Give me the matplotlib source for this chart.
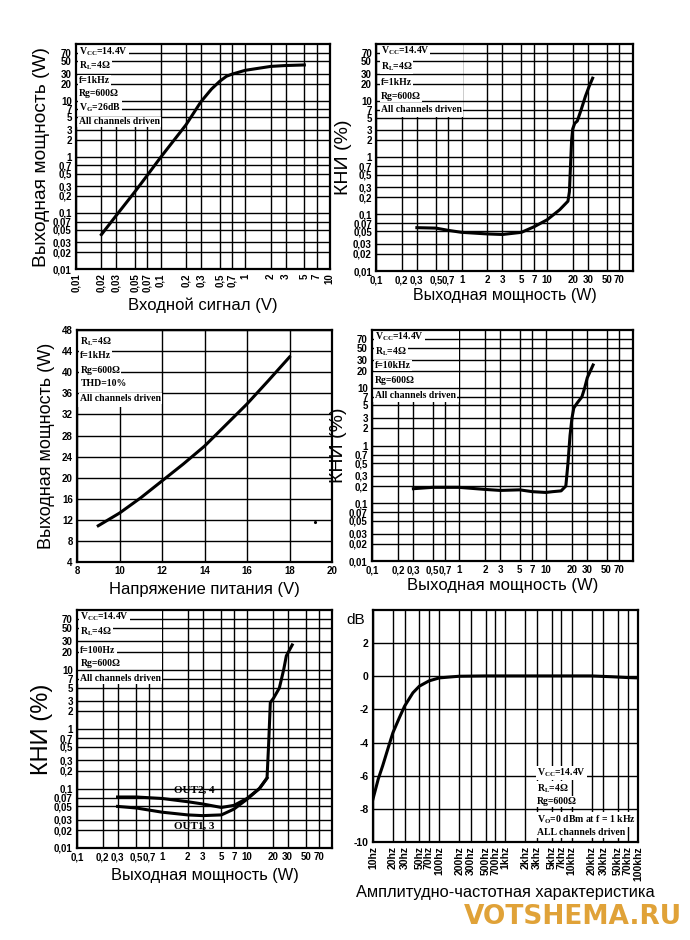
import numpy as np
import matplotlib
matplotlib.use('Agg')
import matplotlib.pyplot as plt
from matplotlib.patches import Rectangle
from matplotlib.ticker import FixedLocator, FixedFormatter, NullLocator

plt.rcParams['font.family'] = ['Liberation Sans', 'DejaVu Sans']
plt.rcParams['mathtext.fontset'] = 'custom'
plt.rcParams['mathtext.rm'] = 'Liberation Serif'
plt.rcParams['mathtext.bf'] = 'Liberation Serif:bold'

# ---- axis ticks / labels ----
log_ticks = [0.01, 0.02, 0.03, 0.05, 0.07, 0.1, 0.2, 0.3, 0.5, 0.7,
             1, 2, 3, 5, 7, 10, 20, 30, 50, 70]
log_labels = ['0,01', '0,02', '0,03', '0,05', '0,07', '0,1', '0,2', '0,3', '0,5', '0,7',
              '1', '2', '3', '5', '7', '10', '20', '30', '50', '70']
vin_ticks = [0.01, 0.02, 0.03, 0.05, 0.07, 0.1, 0.2, 0.3, 0.5, 0.7, 1, 2, 3, 5, 7, 10]
vin_labels = ['0,01', '0,02', '0,03', '0,05', '0,07', '0,1', '0,2', '0,3', '0,5', '0,7',
              '1', '2', '3', '5', '7', '10']
pw_ticks = [0.1, 0.2, 0.3, 0.5, 0.7, 1, 2, 3, 5, 7, 10, 20, 30, 50, 70]
pw_labels = ['0,1', '0,2', '0,3', '0,5', '0,7', '1', '2', '3', '5', '7', '10', '20', '30', '50', '70']
vcc_ticks = [8, 10, 12, 14, 16, 18, 20]
pv_ticks = [4, 8, 12, 16, 20, 24, 28, 32, 36, 40, 44, 48]
f_ticks = [10, 20, 30, 50, 70, 100, 200, 300, 500, 700, 1000, 2000, 3000, 5000, 7000,
           10000, 20000, 30000, 50000, 70000, 100000]
f_labels = ['10hz', '20hz', '30hz', '50hz', '70hz', '100hz', '200hz', '300hz', '500hz',
            '700hz', '1khz', '2khz', '3khz', '5khz', '7khz', '10khz', '20khz', '30khz',
            '50khz', '70khz', '100khz']
db_ticks = [-10, -8, -6, -4, -2, 0, 2]
db_labels = ['-10', '-8', '-6', '-4', '-2', '0', '2']

# ---- curves ----
vin1 = [0.02, 0.03, 0.05, 0.07, 0.1, 0.2, 0.3, 0.4, 0.5, 0.6, 0.7, 1, 2, 3, 5]
pout1 = [0.041, 0.09, 0.24, 0.47, 0.97, 3.7, 9.5, 16, 22, 27, 29.5, 34.5, 40.5, 42, 43]

p2 = [0.3, 0.5, 0.7, 1, 2, 3, 5, 7, 10, 14, 17.5, 18.2, 18.8, 19.3, 19.9, 21, 22.5, 25, 28, 31, 34]
thd2 = [0.058, 0.057, 0.052, 0.048, 0.045, 0.044, 0.048, 0.06, 0.08, 0.12, 0.17, 0.25,
        0.8, 2.0, 3.2, 4.0, 4.4, 7, 12, 18, 25]

vcc3 = [9, 10, 11, 12, 13, 14, 15, 16, 17, 18]
pout3 = [10.9, 13.3, 16.2, 19.4, 22.6, 26.0, 30.0, 34.0, 38.4, 42.9]

p4 = [0.3, 0.5, 1, 2, 3, 5, 7, 10, 12, 15, 17, 18, 19, 20, 21, 23, 26, 28, 30, 35]
thd4 = [0.18, 0.19, 0.19, 0.175, 0.168, 0.172, 0.16, 0.155, 0.16, 0.165, 0.2, 0.5,
        1.5, 3.0, 4.5, 5.5, 7, 10, 15, 25]

p5_out24 = [0.3, 0.5, 1, 2, 3, 5, 7, 10, 14, 17.2, 18, 18.8, 20.5, 24, 27, 29, 34]
thd5_out24 = [0.072, 0.072, 0.068, 0.06, 0.055, 0.048, 0.052, 0.068, 0.1, 0.15, 0.6,
              2.8, 3.3, 4.9, 10, 17, 26]
p5_out13 = [0.3, 0.5, 1, 2, 3, 5, 7, 10, 14, 17.2]
thd5_out13 = [0.05, 0.047, 0.04, 0.036, 0.035, 0.036, 0.045, 0.066, 0.1, 0.15]

f6 = [10, 12, 14, 17, 20, 25, 30, 40, 50, 70, 100, 150, 200, 500, 1000, 5000, 10000,
      20000, 40000, 70000, 100000]
db6 = [-7.4, -6.2, -5.4, -4.3, -3.4, -2.5, -1.8, -1.0, -0.6, -0.28, -0.1, -0.04, 0, 0.02,
       0.02, 0.02, 0.02, 0.02, -0.03, -0.08, -0.1]

SERIF = ['Liberation Serif', 'DejaVu Serif']


def style(ax, xt, xl, yt, yl, xrot=0, size=7):
    ax.xaxis.set_major_locator(FixedLocator(xt))
    ax.xaxis.set_major_formatter(FixedFormatter(xl))
    ax.yaxis.set_major_locator(FixedLocator(yt))
    ax.yaxis.set_major_formatter(FixedFormatter(yl))
    ax.xaxis.set_minor_locator(NullLocator())
    ax.yaxis.set_minor_locator(NullLocator())
    ax.tick_params(length=0, pad=3, labelsize=size)
    for lab in ax.get_xticklabels() + ax.get_yticklabels():
        lab.set_fontweight('bold')
    for lab in ax.get_xticklabels():
        lab.set_rotation(xrot)
    for v in xt:
        ax.axvline(v, color='k', lw=1.0, zorder=1)
    for v in yt:
        ax.axhline(v, color='k', lw=1.0, zorder=3)
    for s in ax.spines.values():
        s.set_linewidth(1.6)
        s.set_zorder(6)


def note(ax, lines, x0, ys, w, h, size=7):
    ax.add_patch(Rectangle((x0 - 0.01, 1 - h), w, h, transform=ax.transAxes,
                           fc='white', ec='none', zorder=2))
    for s, y in zip(lines, ys):
        ax.text(x0, 1 - y, s, transform=ax.transAxes, fontsize=size, va='center',
                family=SERIF, fontweight='bold', zorder=4,
                bbox=dict(fc='white', ec='none', pad=0.6))


fig = plt.figure(figsize=(6.9, 9.4), dpi=100)

# panel 1: output power vs input signal
ax1 = fig.add_axes([0.110, 0.7138, 0.368, 0.239])
ax1.set_xscale('log'); ax1.set_yscale('log')
ax1.set_xlim(0.01, 10); ax1.set_ylim(0.01, 100)
style(ax1, vin_ticks, vin_labels, log_ticks, log_labels, xrot=90)
ax1.plot(vin1, pout1, color='k', lw=2.2, zorder=5)
note(ax1, [r'V$_{\mathbf{CC}}$=14.4V', r'R$_{\mathbf{L}}$=4Ω', 'f=1kHz', 'Rg=600Ω',
           r'V$_{\mathbf{G}}$=26dB', 'All channels driven'],
     0.013, [0.03, 0.093, 0.16, 0.219, 0.281, 0.345], 0.31, 0.37)
ax1.set_ylabel('Выходная мощность (W)', fontsize=13.8, labelpad=2)
ax1.set_xlabel('Входной сигнал (V)', fontsize=12, labelpad=4)

# panel 2: THD vs output power, 1 kHz
ax2 = fig.add_axes([0.545, 0.7117, 0.372, 0.2415])
ax2.set_xscale('log'); ax2.set_yscale('log')
ax2.set_xlim(0.1, 100); ax2.set_ylim(0.01, 100)
style(ax2, pw_ticks, pw_labels, log_ticks, log_labels)
ax2.plot(p2, thd2, color='k', lw=2.2, zorder=5)
note(ax2, [r'V$_{\mathbf{CC}}$=14.4V', r'R$_{\mathbf{L}}$=4Ω', 'f=1kHz', 'Rg=600Ω',
           'All channels driven'],
     0.018, [0.03, 0.10, 0.17, 0.23, 0.29], 0.33, 0.32)
ax2.set_ylabel('КНИ (%)', fontsize=14, labelpad=1)
ax2.set_xlabel('Выходная мощность (W)', fontsize=11.5, labelpad=2)

# panel 3: output power vs supply voltage
ax3 = fig.add_axes([0.1116, 0.402, 0.3696, 0.2468])
ax3.set_xlim(8, 20); ax3.set_ylim(4, 48)
style(ax3, vcc_ticks, [str(v) for v in vcc_ticks], pv_ticks, [str(v) for v in pv_ticks])
ax3.plot(vcc3, pout3, color='k', lw=2.2, zorder=5)
ax3.plot([19.2], [11.7], 'k.', ms=2.5, zorder=5)
note(ax3, [r'R$_{\mathbf{L}}$=4Ω', 'f=1kHz', 'Rg=600Ω', 'THD=10%', 'All channels driven'],
     0.013, [0.051, 0.108, 0.173, 0.231, 0.296], 0.31, 0.33)
ax3.set_ylabel('Выходная мощность (W)', fontsize=13, labelpad=5)
ax3.set_xlabel('Напряжение питания (V)', fontsize=12, labelpad=4)

# panel 4: THD vs output power, 10 kHz
ax4 = fig.add_axes([0.539, 0.403, 0.378, 0.2457])
ax4.set_xscale('log'); ax4.set_yscale('log')
ax4.set_xlim(0.1, 100); ax4.set_ylim(0.01, 100)
style(ax4, pw_ticks, pw_labels, log_ticks, log_labels)
ax4.plot(p4, thd4, color='k', lw=2.2, zorder=5)
note(ax4, [r'V$_{\mathbf{CC}}$=14.4V', r'R$_{\mathbf{L}}$=4Ω', 'f=10kHz', 'Rg=600Ω',
           'All channels driven'],
     0.012, [0.029, 0.094, 0.152, 0.217, 0.282], 0.33, 0.31)
ax4.set_ylabel('КНИ (%)', fontsize=14, labelpad=1)
ax4.set_xlabel('Выходная мощность (W)', fontsize=12, labelpad=2)

# panel 5: THD vs output power, 100 Hz
ax5 = fig.add_axes([0.1116, 0.0979, 0.3696, 0.253])
ax5.set_xscale('log'); ax5.set_yscale('log')
ax5.set_xlim(0.1, 100); ax5.set_ylim(0.01, 100)
style(ax5, pw_ticks, pw_labels, log_ticks, log_labels)
ax5.plot(p5_out24, thd5_out24, color='k', lw=2.2, zorder=5)
ax5.plot(p5_out13, thd5_out13, color='k', lw=2.2, zorder=5)
ax5.text(2.4, 0.092, 'OUT2, 4', fontsize=8, fontweight='bold', ha='center', va='center',
         family=SERIF, zorder=7)
ax5.text(2.4, 0.023, 'OUT1, 3', fontsize=8, fontweight='bold', ha='center', va='center',
         family=SERIF, zorder=7)
note(ax5, [r'V$_{\mathbf{CC}}$=14.4V', r'R$_{\mathbf{L}}$=4Ω', 'f=100Hz', 'Rg=600Ω',
           'All channels driven'],
     0.013, [0.028, 0.091, 0.168, 0.224, 0.287], 0.33, 0.31)
ax5.set_ylabel('КНИ (%)', fontsize=17, labelpad=1)
ax5.set_xlabel('Выходная мощность (W)', fontsize=11.8, labelpad=4)

# panel 6: frequency response
ax6 = fig.add_axes([0.5406, 0.1043, 0.384, 0.2468])
ax6.set_xscale('log')
ax6.set_xlim(10, 100000); ax6.set_ylim(-10, 4)
style(ax6, f_ticks, f_labels, db_ticks, db_labels, xrot=90, size=7.5)
ax6.plot(f6, db6, color='k', lw=2.2, zorder=5)
for s, y in zip([r'V$_{\mathbf{CC}}$=14.4V', r'R$_{\mathbf{L}}$=4Ω', 'Rg=600Ω',
                 r'V$_{\mathbf{O}}$=0 dBm at f = 1 kHz', 'ALL channels driven'],
                [-5.84, -6.75, -7.57, -8.64, -9.45]):
    ax6.text(0.62, y, s, transform=ax6.get_yaxis_transform(), fontsize=7, va='center',
             family=SERIF, fontweight='bold', zorder=4,
             bbox=dict(fc='white', ec='none', pad=0.8))
ax6.text(-0.03, 3.4, 'dB', transform=ax6.get_yaxis_transform(), fontsize=11,
         ha='right', va='center')
ax6.set_xlabel('Амплитудно-частотная характеристика', fontsize=11.8, labelpad=3)

fig.text(0.83, 0.024, 'VOTSHEMA.RU', fontsize=19, fontweight='heavy', color='#E0A238',
         ha='center', va='center', family=['DejaVu Sans'])

fig.savefig('out.png', dpi=100)
